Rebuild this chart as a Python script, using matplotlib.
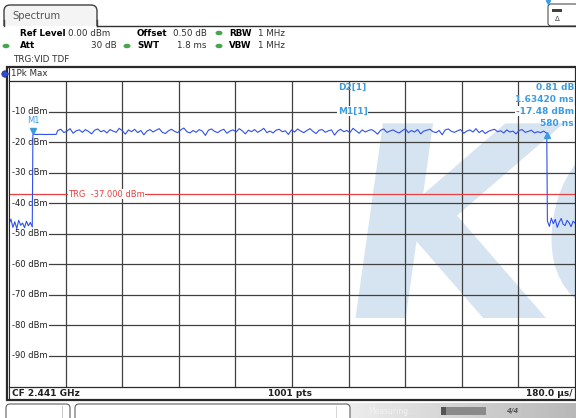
import numpy as np
import matplotlib
matplotlib.use("Agg")
import matplotlib.pyplot as plt
from matplotlib.patches import FancyBboxPatch, Rectangle, Ellipse, Circle, PathPatch
from matplotlib.textpath import TextPath
from matplotlib.font_manager import FontProperties
import matplotlib.transforms as mtransforms

# ---------------- data ----------------
sweep_us = 1800.0
y_ticks = [-10, -20, -30, -40, -50, -60, -70, -80, -90]
y_tick_labels = ["-10 dBm", "-20 dBm", "-30 dBm", "-40 dBm", "-50 dBm",
                 "-60 dBm", "-70 dBm", "-80 dBm", "-90 dBm"]
trg_level = -37.0
m1_time = 76.0
m1_level = -17.48
d2_dtime = 1634.2
d2_ddb = 0.81

pre_noise = [-46.8, -45.2, -47.9, -46.1, -48.3, -45.6, -47.2, -46.5, -48.0,
             -45.9, -47.4, -46.3, -47.8]
flat_part = [-17.48, -17.5, -17.45, -17.5, -17.52, -17.48, -17.5, -17.46]
high_noise = [
    -16.2, -15.8, -16.9, -16.4, -15.6, -17.1, -16.3, -16.0, -16.8, -15.9,
    -16.5, -17.3, -16.1, -15.7, -16.6, -16.2, -17.0, -15.9, -16.4, -16.8,
    -15.5, -16.3, -17.4, -16.0, -16.6, -15.8, -16.9, -16.2, -17.6, -16.4,
    -15.9, -16.7, -16.1, -15.6, -16.8, -17.2, -16.3, -15.8, -16.5, -16.9,
    -16.0, -15.4, -16.6, -17.0, -16.2, -16.8, -15.9, -16.4, -17.8, -16.1,
    -15.7, -16.5, -16.9, -16.2, -15.8, -17.1, -16.4, -16.0, -16.7, -15.6,
    -16.3, -17.3, -16.1, -16.6, -15.9, -16.8, -16.2, -15.5, -16.9, -16.4,
    -17.0, -16.1, -15.8, -16.6, -16.3, -17.5, -16.0, -16.7, -15.7, -16.4,
    -16.9, -16.2, -15.6, -16.5, -17.2, -16.1, -15.9, -16.8, -16.3, -16.0,
    -17.7, -16.4, -15.8, -16.6, -16.2, -16.9, -15.5, -16.3, -17.1, -16.0,
    -16.7, -16.2, -15.9, -16.5, -17.4, -16.1, -15.7, -16.8, -16.4, -16.0,
    -16.6, -17.0, -16.3, -15.6, -16.9, -16.2, -16.7, -15.9, -17.3, -16.4,
    -16.1, -15.8, -16.6, -16.9, -16.2, -17.6, -16.0, -15.7, -16.5, -16.8,
    -16.3, -15.9, -17.1, -16.4, -16.0, -16.7, -15.6, -16.9, -16.2, -17.2,
    -16.5, -16.1, -15.8, -16.6, -16.3, -17.0, -16.0, -16.7, -16.4, -17.3,
    -16.2, -15.9, -16.8, -16.5, -16.1, -17.0, -16.6, -16.9, -16.4, -17.1,
]
post_noise = [-45.8, -47.6, -44.9, -46.7, -45.3, -47.9, -46.2, -45.0, -46.9,
              -47.3, -45.6, -46.4, -47.7, -45.9, -46.5]

# sample times for each segment (evenly spaced sweep points)
t_pre = np.linspace(0, m1_time - 2, len(pre_noise))
t_flat = np.linspace(m1_time, 150, len(flat_part))
t_high = np.linspace(155, m1_time + d2_dtime, len(high_noise))
t_post = np.linspace(m1_time + d2_dtime + 2, sweep_us, len(post_noise))
t_all = np.concatenate([t_pre, t_flat, t_high, t_post])
v_all = np.concatenate([pre_noise, flat_part, high_noise, post_noise])

# ---------------- figure ----------------
W, H = 576, 418
fig = plt.figure(figsize=(W / 100, H / 100), dpi=100)
fig.patch.set_facecolor("white")

def fpos(x0, y0, x1, y1):
    return [x0 / W, 1 - y1 / H, (x1 - x0) / W, (y1 - y0) / H]

ax = fig.add_axes(fpos(9, 81, 575, 386.5))
ax.set_xlim(0, sweep_us)
ax.set_ylim(-100, 0)
ax.set_xticks([])
ax.set_yticks([])
for s in ax.spines.values():
    s.set_visible(False)

# watermark (slightly slanted bold "KC"), in pixel units
wm_path = TextPath((0, 0), "KC", size=267,
                   prop=FontProperties(family="DejaVu Sans", weight="bold"))
wm_tr = (mtransforms.Affine2D().skew_deg(8, 0).translate(331, H - 318)
         + mtransforms.IdentityTransform())
wm = PathPatch(wm_path, facecolor="#d6e4f1", edgecolor="none",
               transform=wm_tr, zorder=0)
ax.add_patch(wm)
wm.set_clip_box(ax.bbox)

grid_c = "#404040"
for k in range(1, 10):
    ax.axvline(k * sweep_us / 10, color=grid_c, lw=0.9, zorder=1)
for yv in y_ticks:
    ax.axhline(yv, xmin=(49 - 9) / 566, xmax=1, color=grid_c, lw=0.9, zorder=1)
for yv, lab in zip(y_ticks, y_tick_labels):
    ax.text(((48 - 9) / 566) * sweep_us, yv, lab, ha="right", va="center",
            fontsize=6, color="#202020", zorder=2)

# trigger line
ax.axhline(trg_level, color="#e84040", lw=0.9, zorder=2)
ax.text(((68 - 9) / 566) * sweep_us, trg_level, "TRG  -37.000 dBm",
        ha="left", va="center", fontsize=6, color="#e84040", zorder=3,
        bbox=dict(facecolor="white", edgecolor="none", pad=0.3))

# trace
ax.plot(t_all, v_all, color="#3050ee", lw=0.8, zorder=4)

# markers
mk_c = "#3d9be0"
tr_up = mtransforms.offset_copy(ax.transData, fig=fig, x=0, y=3.5, units="dots")
tr_dn = mtransforms.offset_copy(ax.transData, fig=fig, x=0, y=-3.5, units="dots")
ax.plot([m1_time], [m1_level], marker="v", ms=5, color=mk_c,
        transform=tr_up, zorder=6, clip_on=False)
ax.text(m1_time, m1_level, "M1", transform=mtransforms.offset_copy(
        ax.transData, fig=fig, x=0, y=9, units="dots"),
        ha="center", va="bottom", fontsize=6, color=mk_c, zorder=6)
ax.plot([m1_time + d2_dtime], [m1_level + d2_ddb], marker="^", ms=5,
        color=mk_c, transform=tr_dn, zorder=6, clip_on=False)

# ---------------- overlay (pixel coords) ----------------
ov = fig.add_axes([0, 0, 1, 1], zorder=5)
ov.set_xlim(0, W)
ov.set_ylim(H, 0)
ov.axis("off")
ov.patch.set_alpha(0)

# Spectrum tab
tab = FancyBboxPatch((4, 5), 93, 40, boxstyle="round,pad=0,rounding_size=6",
                     facecolor="#f4f4f4", edgecolor="#404040", lw=1.0)
ov.add_patch(tab)
ov.add_patch(Rectangle((0, 26), W, 40, facecolor="white", edgecolor="none"))
ov.plot([4, 4], [20, 26], color="#404040", lw=1.0)
ov.plot([97, 97], [20, 26], color="#404040", lw=1.0)
ov.plot([97, W], [26, 26], color="#303030", lw=1.0)
ov.add_patch(Rectangle((4.6, 26), 91.8, 1.5, facecolor="white", edgecolor="none"))
ov.text(12, 16, "Spectrum", fontsize=7.2, color="#555555", va="center", ha="left")

# top-right icon
ov.add_patch(FancyBboxPatch((548, 4), 30, 22, boxstyle="round,pad=0,rounding_size=3",
                            facecolor="white", edgecolor="#505050", lw=0.8))
ov.add_patch(Rectangle((552, 9), 10, 3, facecolor="#404040", edgecolor="none"))
ov.text(557, 19, "\u0394", fontsize=5, ha="center", va="center", color="#404040")
ov.plot([548], [1.5], marker="v", ms=3, color="#3d9be0")

# header info
fs = 6.3
txt_c = "#303030"
green = "#46a64a"
def dot(x, y):
    ov.add_patch(Ellipse((x, y), 7, 4.5, facecolor=green, edgecolor="none"))

ov.text(20, 33, "Ref Level", fontsize=fs, fontweight="bold", va="center", color="black")
ov.text(68, 33, "0.00 dBm", fontsize=fs, va="center", color=txt_c)
ov.text(137, 33, "Offset", fontsize=fs, fontweight="bold", va="center", color="black")
ov.text(173, 33, "0.50 dB", fontsize=fs, va="center", color=txt_c)
dot(219, 33)
ov.text(229, 33, "RBW", fontsize=fs, fontweight="bold", va="center", color="black")
ov.text(258, 33, "1 MHz", fontsize=fs, va="center", color=txt_c)

dot(6, 46)
ov.text(20, 46, "Att", fontsize=fs, fontweight="bold", va="center", color="black")
ov.text(117, 46, "30 dB", fontsize=fs, va="center", ha="right", color=txt_c)
dot(127, 46)
ov.text(137, 46, "SWT", fontsize=fs, fontweight="bold", va="center", color="black")
ov.text(177, 46, "1.8 ms", fontsize=fs, va="center", color=txt_c)
dot(219, 46)
ov.text(229, 46, "VBW", fontsize=fs, fontweight="bold", va="center", color="black")
ov.text(258, 46, "1 MHz", fontsize=fs, va="center", color=txt_c)

ov.text(13, 59, "TRG:VID TDF", fontsize=fs, va="center", color=txt_c)

# frame
fr_c = "#2a2a2a"
ov.add_patch(Rectangle((6.5, 66.5), 569, 333, facecolor="none", edgecolor=fr_c, lw=1.6))
ov.plot([9, 9], [67, 399], color=fr_c, lw=0.8)
ov.plot([9, 575], [81, 81], color=fr_c, lw=0.9)
ov.plot([9, 575], [387, 387], color=fr_c, lw=0.9)
ov.add_patch(Circle((5, 74), 3.2, facecolor="#2a4fd6", edgecolor="#222266", lw=0.5))
ov.text(11, 74, "1Pk Max", fontsize=6.3, va="center", color=txt_c)

# marker table
mfs = 6.5
ov.text(338, 87, "D2[1]", fontsize=mfs, fontweight="bold", color=mk_c, va="center")
ov.text(574, 87, "0.81 dB", fontsize=mfs, fontweight="bold", color=mk_c, va="center", ha="right")
ov.text(574, 99, "1.63420 ms", fontsize=mfs, fontweight="bold", color=mk_c, va="center", ha="right")
ov.text(338, 111, "M1[1]", fontsize=mfs, fontweight="bold", color=mk_c, va="center",
        bbox=dict(facecolor="white", edgecolor="none", pad=0.4))
ov.text(574, 111, "-17.48 dBm", fontsize=mfs, fontweight="bold", color=mk_c, va="center", ha="right",
        bbox=dict(facecolor="white", edgecolor="none", pad=0.4))
ov.text(574, 123, "580 ns", fontsize=mfs, fontweight="bold", color=mk_c, va="center", ha="right")

# bottom bar
ov.text(12, 393, "CF 2.441 GHz", fontsize=6.5, fontweight="bold", va="center", color="#202020")
ov.text(290, 393, "1001 pts", fontsize=6.5, fontweight="bold", va="center", ha="center", color="#202020")
ov.text(572, 393, "180.0 \u00b5s/", fontsize=6.5, fontweight="bold", va="center", ha="right", color="#202020")

# status bar
grad = np.linspace(0.93, 0.72, 200).reshape(1, -1)
ov.imshow(grad, extent=(345, 576, 418, 403), cmap="gray", vmin=0, vmax=1,
          aspect="auto", zorder=1)
ov.add_patch(FancyBboxPatch((6, 404), 64, 20, boxstyle="round,pad=0,rounding_size=4",
                            facecolor="white", edgecolor="#606060", lw=0.8, zorder=2))
ov.plot([62, 62], [406, 418], color="#c0c0c0", lw=0.6, zorder=3)
ov.add_patch(FancyBboxPatch((75, 404), 275, 20, boxstyle="round,pad=0,rounding_size=4",
                            facecolor="white", edgecolor="#606060", lw=0.8, zorder=2))
ov.plot([336, 336], [406, 418], color="#d0d0d0", lw=0.6, zorder=3)
ov.text(368, 411, "Measuring...", fontsize=5.5, color="#f2f2f2", va="center", zorder=3)
ov.add_patch(Rectangle((441, 407), 45, 8, facecolor="#555555", edgecolor="none", zorder=3))
ov.add_patch(Rectangle((446, 407), 40, 8, facecolor="#8a8a8a", edgecolor="none", zorder=3))
ov.text(506, 411, "4/4", fontsize=5, color="#555555", va="center", fontweight="bold",
        fontstyle="italic", zorder=3)
ov.set_xlim(0, W)
ov.set_ylim(H, 0)

fig.savefig("out.png", dpi=100)
